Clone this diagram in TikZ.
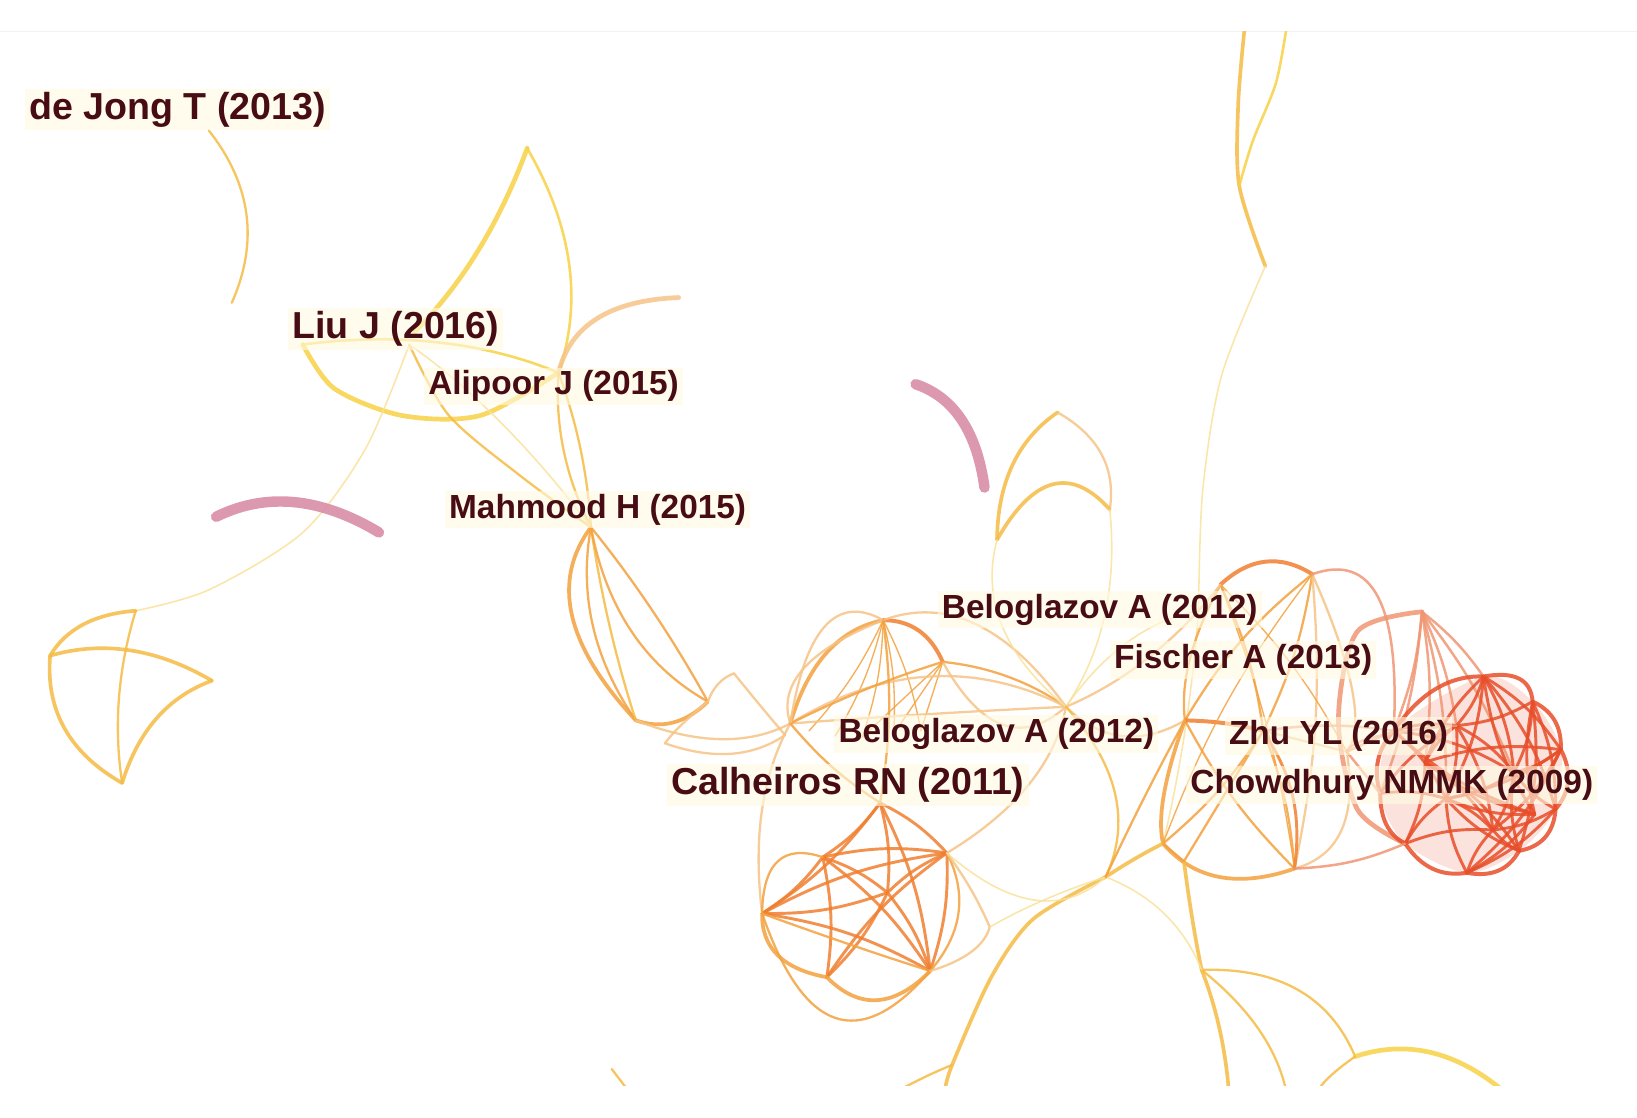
\documentclass[tikz,border=0pt]{standalone}
\usepackage{fontspec}
\setmainfont{Liberation Sans}
\usetikzlibrary{calc}
\definecolor{cy}{RGB}{247,210,70}
\definecolor{cyo}{RGB}{245,188,68}
\definecolor{cpy}{RGB}{250,226,155}
\definecolor{co}{RGB}{244,162,62}
\definecolor{cpo}{RGB}{246,196,135}
\definecolor{cdo}{RGB}{240,128,48}
\definecolor{cr}{RGB}{232,78,42}
\definecolor{csal}{RGB}{240,150,115}
\definecolor{cpk}{RGB}{214,135,162}
\definecolor{ctext}{RGB}{72,12,20}
\definecolor{chalo}{RGB}{255,251,226}
\tikzset{
 ed/.style 2 args={draw=#1, line width=#2, line cap=round, draw opacity=0.85},
 yT/.style={ed={cy}{4.5pt}},
 yM/.style={ed={cy}{2.5pt}},
 yoT/.style={ed={cyo}{3.5pt}},
 yo/.style={ed={cyo}{2.2pt}},
 py/.style={ed={cpy}{1.5pt}},
 po/.style={ed={cpo}{2.2pt}},
 poT/.style={ed={cpo}{4.5pt}},
 oT/.style={ed={co}{3.6pt}},
 oM/.style={ed={co}{2.2pt}},
 oS/.style={ed={co}{1.3pt}},
 doT/.style={ed={cdo}{3.8pt}},
 doM/.style={ed={cdo}{2.8pt}},
 rd/.style={ed={cr}{2.8pt}},
 rdT/.style={ed={cr}{3.8pt}},
 sal/.style={ed={csal}{2.4pt}},
 salT/.style={ed={csal}{4.5pt}},
 pk/.style={ed={cpk}{10pt}},
 thru/.style={to path={.. controls ($1.3333*(#1)-0.3333*(\tikztotarget)$) and ($1.3333*(#1)-0.3333*(\tikztostart)$) .. (\tikztotarget)}},
 lab/.style={font=\bfseries\fontsize{32}{36}\selectfont, text=ctext, anchor=west,
   fill=chalo, fill opacity=0.6, text opacity=1, inner xsep=4pt, inner ysep=3pt},
 labB/.style={lab, font=\bfseries\fontsize{36}{40}\selectfont},
}
\begin{document}
\begin{tikzpicture}[x=1pt,y=-1pt]
\useasboundingbox (0,0) rectangle (1568,1070);
\fill[white] (0,0) rectangle (1568,1070);
\draw[black!5, line width=1pt] (0,30) -- (1568,30);

% ---------- coordinates ----------
\coordinate (dja) at (200,125);   \coordinate (djb) at (222,290);
\coordinate (lfA) at (505,142);   \coordinate (liuL) at (290,330);
\coordinate (liuC) at (392,330);  \coordinate (liuE) at (397,318);
\coordinate (alJ) at (535,357);   \coordinate (orE) at (650,285);
\coordinate (mhJ) at (566,505);   \coordinate (mhB) at (609,690);
\coordinate (mhR) at (678,672);   \coordinate (triA) at (703,645);
\coordinate (triL) at (637,712);  \coordinate (triR) at (752,704);
\coordinate (pk1a) at (207,495);  \coordinate (pk1b) at (363,510);
\coordinate (pk2a) at (877,368);  \coordinate (pk2b) at (943,467);
\coordinate (tT) at (130,585);    \coordinate (tL) at (48,628);
\coordinate (tB) at (117,750);    \coordinate (tR) at (203,652);

\coordinate (cTop) at (846,594);  \coordinate (cN2) at (903,634);
\coordinate (cL) at (757,693);    \coordinate (hub) at (1021,677);
\coordinate (cM) at (843,769);    \coordinate (cB1) at (788,821);
\coordinate (cB2) at (730,875);   \coordinate (cB3) at (792,936);
\coordinate (cB4) at (891,930);   \coordinate (cB5) at (907,817);
\coordinate (cC) at (850,855);    \coordinate (cArc) at (948,888);
\coordinate (f1) at (775,700);    \coordinate (f2) at (800,705);
\coordinate (f3) at (826,706);    \coordinate (f4) at (856,703);
\coordinate (f5) at (882,700);
\coordinate (lfB) at (1013,395);  \coordinate (lfBL) at (955,517);
\coordinate (lfBR) at (1063,488);

\coordinate (vT1) at (1192,28);   \coordinate (vT2) at (1232,28);
\coordinate (vM) at (1187,178);   \coordinate (vJ) at (1212,255);
\coordinate (vLow) at (1148,585);

\coordinate (oT1) at (1257,550);  \coordinate (oT2) at (1169,560);
\coordinate (oL) at (1135,690);   \coordinate (oC) at (1210,700);
\coordinate (oB) at (1240,832);   \coordinate (oR) at (1290,720);
\coordinate (j1) at (1059,840);   \coordinate (j2) at (1114,808);
\coordinate (jv) at (1134,825);

\coordinate (rTop) at (1362,586); \coordinate (r1) at (1421,648);
\coordinate (r2) at (1468,672);   \coordinate (r3) at (1495,718);
\coordinate (r4) at (1490,775);   \coordinate (r5) at (1455,815);
\coordinate (r6) at (1405,836);   \coordinate (r7) at (1346,808);
\coordinate (r8) at (1322,760);   \coordinate (r9) at (1335,700);
\coordinate (r10) at (1395,695);  \coordinate (r11) at (1450,740);
\coordinate (r12) at (1385,765);  \coordinate (r13) at (1430,795);
\coordinate (r14) at (1365,730);  \coordinate (r15) at (1470,780);

\coordinate (bv) at (1151,929);   \coordinate (b1) at (1177,1045);
\coordinate (b2) at (1232,1045);  \coordinate (b3) at (1298,1012);
\coordinate (b4) at (1440,1045);  \coordinate (b5) at (1262,1045);
\coordinate (bL) at (905,1045);   \coordinate (bL2) at (860,1045);
\coordinate (bLm) at (912,1020);
\coordinate (s1) at (586,1024);   \coordinate (s2) at (602,1045);

\begin{scope}
\clip (0,30) rectangle (1568,1040);
% faint tint of the dense red cluster
\fill[cr, opacity=0.16] plot[smooth cycle] coordinates {(r1) (r2) (r3) (r4) (r5) (r6) (r7) (r8) (r9)};

% ---------- left cluster ----------
\draw[yo] (dja) to[thru={236,205}] (djb);
\draw[yT] (lfA) to[thru={458,240}] (liuE);
\draw[yM] (lfA) to[thru={545,252}] (alJ);
\draw[yT] plot[smooth] coordinates {(liuL) (320,372) (385,398) (460,398) (alJ)};
\draw[yM] (liuL) to[thru={420,328}] (alJ);
\draw[poT] (orE) to[thru={572,305}] (alJ);
\draw[py] plot[smooth] coordinates {(liuC) (350,430) (290,510) (200,565) (tT)};
\draw[yo] (alJ) to[thru={556,430}] (mhJ);
\draw[yo] (alJ) to[thru={540,432}] (mhJ);
\draw[yo] plot[smooth] coordinates {(liuC) (430,398) (500,457) (mhJ)};
\draw[py] (liuC) to[thru={480,405}] (mhJ);

\draw[pk] (pk1a) to[thru={282,481}] (pk1b);
\draw[pk] (pk2a) to[thru={921,402}] (pk2b);

\draw[yoT] (tT) to[thru={80,598}] (tL);
\draw[yoT] (tL) to[thru={62,698}] (tB);
\draw[yoT] (tB) to[thru={150,688}] (tR);
\draw[yoT] (tL) to[thru={125,623}] (tR);
\draw[yo] (tT) to[thru={114,668}] (tB);

% ---------- Mahmood cluster ----------
\draw[oT] (mhJ) to[thru={548,590}] (mhB);
\draw[oM] (mhJ) to[thru={568,600}] (mhB);
\draw[yo] (mhJ) to[thru={584,600}] (mhB);
\draw[oM] (mhJ) to[thru={625,585}] (mhR);
\draw[oM] (mhJ) to[thru={605,605}] (mhR);
\draw[oT] (mhB) to[thru={645,692}] (mhR);
\draw[po] (mhR) to[thru={652,695}] (triL);
\draw[po] (triL) to[thru={700,722}] (triR);
\draw[po] (triA) to[thru={730,678}] (triR);
\draw[po] (triA) to[thru={688,655}] (mhR);
\draw[po] (mhB) to[thru={690,708}] (cL);

% ---------- Calheiros cluster ----------
\draw[oT] (cTop) to[thru={792,625}] (cL);
\draw[doT] (cTop) to[thru={880,604}] (cN2);
\foreach \f in {f1,f2,f3,f4,f5} {\draw[oS] (cTop) to[bend left=8] (\f);}
\draw[oS] (cN2) -- (f4); \draw[oS] (cN2) -- (f5); \draw[oS] (cN2) -- (f3);
\draw[oM] (cN2) to[thru={965,648}] (hub);
\draw[po] (cN2) to[thru={960,694}] (hub);
\draw[po] (cL) to[thru={890,648}] (hub);
\draw[po] (cL) to[thru={890,684}] (hub);
\draw[oM] (cL) to[thru={830,660}] (cN2);
\draw[po] (cL) to[thru={730,775}] (cB2);
\draw[po] (cTop) to[thru={770,640}] (cL);
\draw[po] (cTop) to[thru={935,598}] (hub);
\draw[po] (cTop) to[thru={790,600}] (cL);

\foreach \a/\b in {cM/cB1,cM/cB2,cM/cB4,cM/cB5,cM/cC,cB1/cB2,cB1/cB3,cB1/cB4,cB1/cB5,cB1/cC,cB2/cB4,cB5/cB4,cB2/cB5,cB3/cB5,cC/cB2,cC/cB4,cC/cB3,cC/cB5}
  {\draw[doM] (\a) to[bend left=10] (\b);}
\draw[oT] (cB2) to[thru={745,915}] (cB3);
\draw[oT] (cB3) to[thru={840,958}] (cB4);
\draw[oM] (cB2) to[thru={745,825}] (cB1);
\draw[oM] (cB5) to[thru={918,875}] (cB4);
\draw[oM] (cB2) to[thru={800,975}] (cB4);
\draw[oM] (cB2) to[thru={815,905}] (cB4);
\draw[po] (cB5) to[thru={930,852}] (cArc);
\draw[po] (cArc) to[thru={930,912}] (cB4);
\draw[po] (cB5) to[thru={985,752}] (hub);
\draw[oM] (cM) to[bend left=8] (cL); \draw[oM] (cM) to[bend right=8] (cTop);

% ---------- central leaf ----------
\draw[yoT] (lfB) to[thru={970,445}] (lfBL);
\draw[po] (lfB) to[thru={1055,435}] (lfBR);
\draw[yoT] (lfBL) to[thru={1008,464}] (lfBR);
\draw[py] (lfBL) to[thru={960,600}] (hub);
\draw[py] (lfBR) to[thru={1058,590}] (hub);
\draw[py] (hub) to[thru={1080,615}] (vLow);

% ---------- top vertical ----------
\draw[yoT] plot[smooth] coordinates {(vT1) (1186,100) (vM) (vJ)};
\draw[yM] plot[smooth] coordinates {(vT2) (1222,80) (1200,135) (vM)};
\draw[py] plot[smooth] coordinates {(vJ) (1170,360) (1152,470) (vLow)};
\draw[py] (vLow) to[thru={1135,700}] (j2);

% ---------- orange right cluster ----------
\draw[doT] (oT2) to[thru={1212,538}] (oT1);
\draw[oM] (oT2) to[thru={1140,630}] (oL);
\draw[oT] (oL) to[thru={1115,760}] (j2);
\draw[oT] (j2) to[thru={1168,840}] (oB);
\draw[po] (oT1) to[thru={1295,660}] (oR);
\draw[po] (oR) to[thru={1285,795}] (oB);
\draw[oM] (oT1) to[bend left=8] (oC); \draw[oM] (oT1) to[bend right=10] (oL);
\draw[oM] (oT2) to[bend left=8] (oC); \draw[oS] (oT2) to[bend left=6] (oB);
\draw[oM] (oC) to[bend left=8] (oB);  \draw[oM] (oC) to[bend left=8] (j2);
\draw[oM] (oL) to[bend right=8] (oB);  \draw[po] (oC) -- (oR);
\draw[po] (oT1) to[bend left=8] (oB); \draw[doT] (oL) to[bend left=6] (oC);
\draw[oS] (oT1) to[bend right=8] (j2); \draw[oS] (oT2) to[bend left=8] (oR);
\draw[doM] (oC) to[bend left=20] (oB);
\draw[sal] (oT1) to[thru={1320,572}] (r9);
\draw[po] (hub) to[thru={1075,705}] (oL);
\draw[po] (hub) to[thru={1100,630}] (oT2);
\draw[oM] (oC) -- (jv);

% ---------- red cluster ----------
\draw[salT] plot[smooth] coordinates {(rTop) (1300,605) (1282,690) (1300,775) (r7)};
\foreach \p in {r1,r9,r10,r8,r12,r11,r14} {\draw[sal] (rTop) to[bend left=8] (\p);}
\draw[rdT] (r1) to[thru={1455,650}] (r2);
\draw[rdT] (r2) to[thru={1489,690}] (r3);
\draw[rdT] (r3) to[thru={1502,748}] (r4);
\draw[rdT] (r4) to[thru={1480,802}] (r5);
\draw[rdT] (r5) to[thru={1435,834}] (r6);
\draw[rdT] (r6) to[thru={1372,832}] (r7);
\draw[rdT] (r7) to[thru={1328,790}] (r8);
\draw[rdT] (r8) to[thru={1320,728}] (r9);
\draw[rdT] (r9) to[thru={1375,660}] (r1);
\foreach \a/\b in {r1/r3,r1/r10,r1/r11,r2/r11,r2/r4,r3/r11,r3/r13,r4/r11,r4/r13,r5/r13,r5/r12,r6/r12,r6/r13,r7/r12,r8/r12,r9/r10,r9/r12,r10/r11,r10/r12,r11/r12,r11/r13,r12/r13,r1/r4,r2/r5,r3/r6,r9/r11,r10/r13,r8/r10,r7/r13,r2/r10,r4/r6,r1/r12,r3/r12,r5/r11,r14/r1,r14/r3,r14/r5,r14/r7,r14/r10,r14/r13,r15/r1,r15/r2,r15/r6,r15/r9,r15/r12,r15/r14}
  {\draw[rd] (\a) to[bend left=12] (\b);}
\draw[sal] (oR) -- (r8); \draw[sal] (oR) -- (r9); \draw[sal] (oC) to[bend left=8] (r9);
\draw[sal] (r7) to[bend left=10] (oB);
\draw[sal] (oR) to[thru={1320,705}] (r10);

% ---------- bottom ----------
\draw[yoT] plot[smooth] coordinates {(j1) (990,880) (950,935) (bLm) (bL)};
\draw[yo] (bLm) to[thru={885,1032}] (bL2);
\draw[yoT] (j2) to[thru={1088,822}] (j1);
\draw[py] (j1) to[thru={1000,862}] (cArc);
\draw[yoT] (jv) to[thru={1142,880}] (bv);
\draw[yoT] (bv) to[thru={1168,985}] (b1);
\draw[yo] (bv) to[thru={1205,985}] (b2);
\draw[yo] (bv) to[thru={1243,948}] (b3);
\draw[yT] (b3) to[thru={1370,1008}] (b4);
\draw[yo] (b3) to[thru={1275,1030}] (b5);
\draw[py] (j1) to[thru={1115,875}] (bv);
\draw[yo] (s1) -- (s2);
\draw[oM] (jv) -- (j2);
\draw[py] (cB5) to[thru={990,862}] (j1);
\draw[yo] (j1) to[thru={1068,760}] (hub);
\draw[oM] (j1) to[thru={1098,760}] (oL);
\end{scope}

% ---------- labels ----------
\node[labB] (dejong) at (24,105) {de Jong T (2013)};
\node[labB] (liu) at (276,315) {Liu J (2016)};
\node[lab] (alipoor) at (406,370) {Alipoor J (2015)};
\node[lab] (mahmood) at (426,488) {Mahmood H (2015)};
\node[lab] (belo1) at (898,584) {Beloglazov A (2012)};
\node[lab] (fischer) at (1063,632) {Fischer A (2013)};
\node[lab] (belo2) at (799,703) {Beloglazov A (2012)};
\node[labB] (calheiros) at (639,752) {Calheiros RN (2011)};
\node[lab] (zhu) at (1173,705) {Zhu YL (2016)};
\node[lab] (chowdhury) at (1136,752) {Chowdhury NMMK (2009)};
\end{tikzpicture}
\end{document}
